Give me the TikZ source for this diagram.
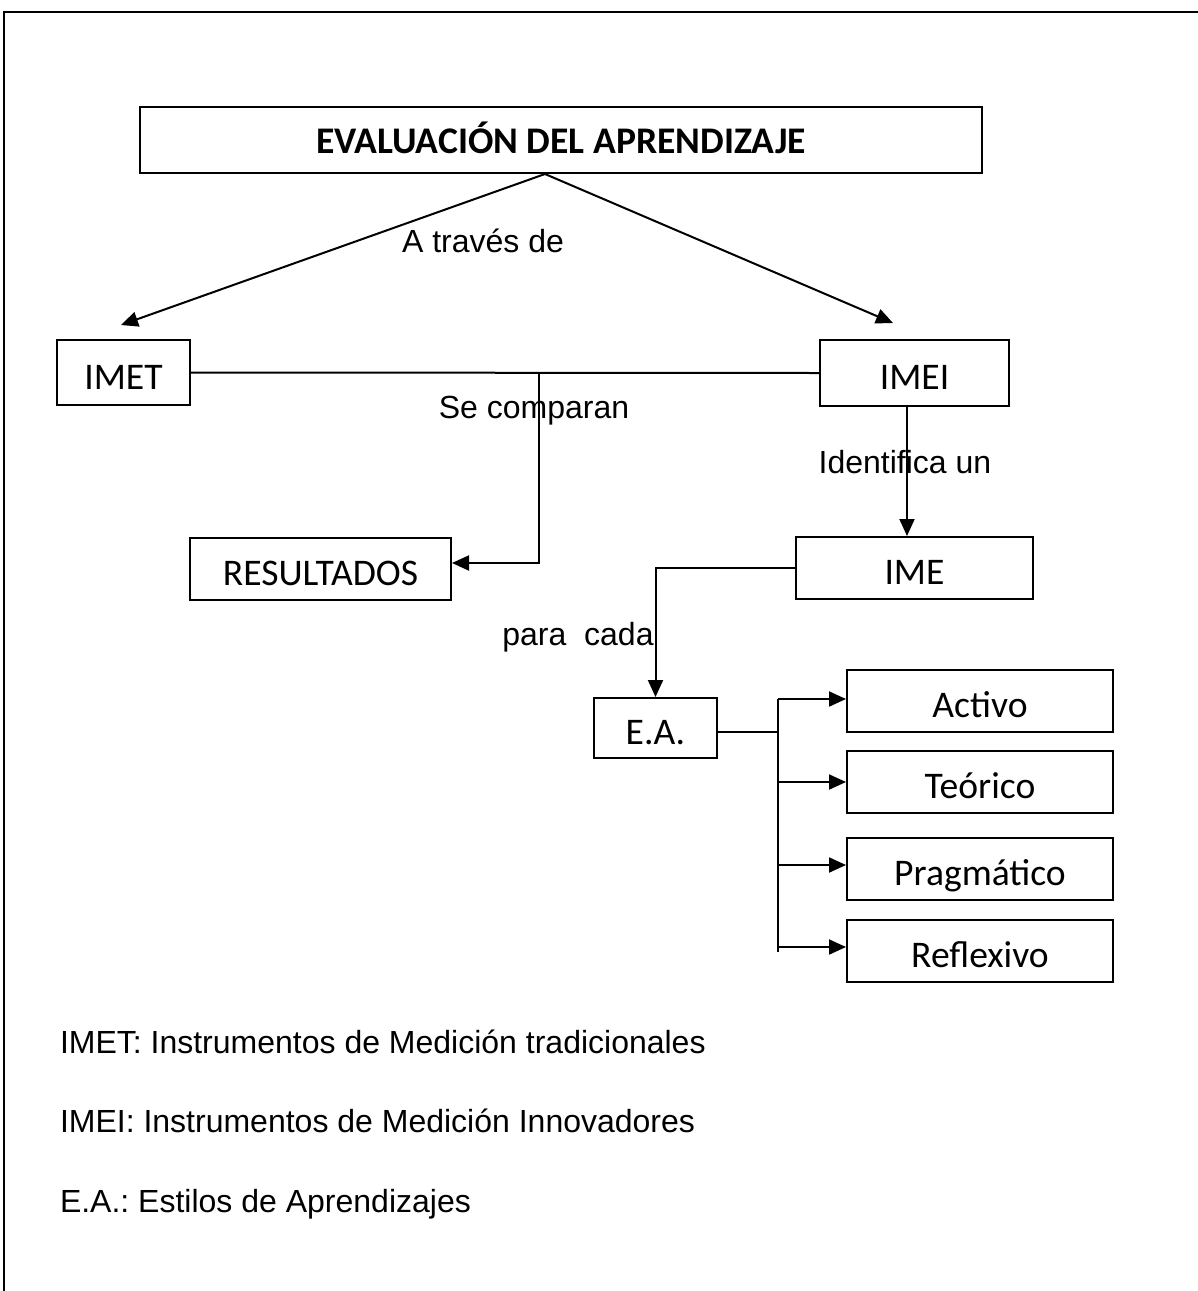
\documentclass[tikz,border=0pt]{standalone}
\usepackage{fontspec}
\usetikzlibrary{arrows.meta}
\newfontfamily\boxfont{Carlito}
\newfontfamily\labfont{Liberation Sans}
\frenchspacing
\begin{document}
\begin{tikzpicture}[x=0.5pt,y=-0.5pt,
  line width=1pt,
  box/.style={draw, line width=1pt, inner sep=0pt, font=\boxfont\fontsize{18.8}{22}\selectfont,
              text height=16.5pt, text depth=0pt},
  lab/.style={inner sep=0pt, anchor=base, font=\labfont\fontsize{16}{19}\selectfont},
  legend/.style={lab, anchor=base west},
  arr/.style={-{Triangle[length=8.5pt,width=7.5pt]}}]
\useasboundingbox (0,0) rectangle (1198,1291);

% page frame (open at the bottom and right)
\draw (1198,12) -- (4,12) -- (4,1291);

% boxes
\node[box, minimum width=842*0.5pt, minimum height=66*0.5pt, text height=13.5pt,
      font=\boxfont\bfseries\fontsize{18.8}{22}\selectfont] (title) at (561,140) {EVALUACIÓN DEL APRENDIZAJE};
\node[box, minimum width=133*0.5pt, minimum height=65*0.5pt] (imet) at (123.5,372.5) {IMET};
\node[box, minimum width=189*0.5pt, minimum height=66*0.5pt] (imei) at (914.5,373) {IMEI};
\node[box, minimum width=261*0.5pt, minimum height=62*0.5pt] (res) at (320.5,569) {RESULTADOS};
\node[box, minimum width=237*0.5pt, minimum height=62*0.5pt] (ime) at (914.5,568) {IME};
\node[box, minimum width=123*0.5pt, minimum height=60*0.5pt] (ea) at (655.5,728) {E.A.};
\node[box, minimum width=266*0.5pt, minimum height=62*0.5pt] (act) at (980,701) {Activo};
\node[box, minimum width=266*0.5pt, minimum height=62*0.5pt] (teo) at (980,782) {Teórico};
\node[box, minimum width=266*0.5pt, minimum height=62*0.5pt] (pra) at (980,869) {Pragmático};
\node[box, minimum width=266*0.5pt, minimum height=62*0.5pt] (ref) at (980,951) {Reflexivo};

% free ends of the connectors
\coordinate (apex) at (545,174);
\coordinate (tipL) at (121,325);
\coordinate (tipR) at (893,323);
\coordinate (cmp) at (539,372.5);
\coordinate (busT) at (778,699);
\coordinate (busB) at (778,952);

% connectors
\draw[arr] (apex) -- (tipL);
\draw[arr] (apex) -- (tipR);
\draw (imet.east) -- (imei.west);
\draw[arr] (cmp) |- ([yshift=3pt]res.east);
\draw[arr] ([xshift=-3.75pt]imei.south) -- ([xshift=-3.75pt]ime.north);
\draw[arr] (ime.west) -| (ea.north);
\draw ([yshift=-2pt]ea.east) -- ([yshift=-2pt]ea.east -| busT);
\draw (busT) -- (busB);
\draw[arr] (busT) -- (busT -| act.west);
\draw[arr] (teo.west -| busT) -- (teo.west);
\draw[arr] ([yshift=2pt]pra.west -| busT) -- ([yshift=2pt]pra.west);
\draw[arr] ([yshift=2pt]ref.west -| busT) -- ([yshift=2pt]ref.west);

% connector labels
\node[lab] (ltraves) at (483,252) {A través de};
\node[lab] (lcomp) at (534,418) {Se comparan};
\node[lab] (lident) at (905,473) {Identifica un};
\node[lab] (lpara) at (578,645) {para\ \ cada};

% abbreviations
\node[legend] (leg1) at (59,1053) {IMET: Instrumentos de Medición tradicionales};
\node[legend] (leg2) at (59,1132) {IMEI: Instrumentos de Medición Innovadores};
\node[legend] (leg3) at (59,1212) {E.A.: Estilos de Aprendizajes};
\end{tikzpicture}
\end{document}
